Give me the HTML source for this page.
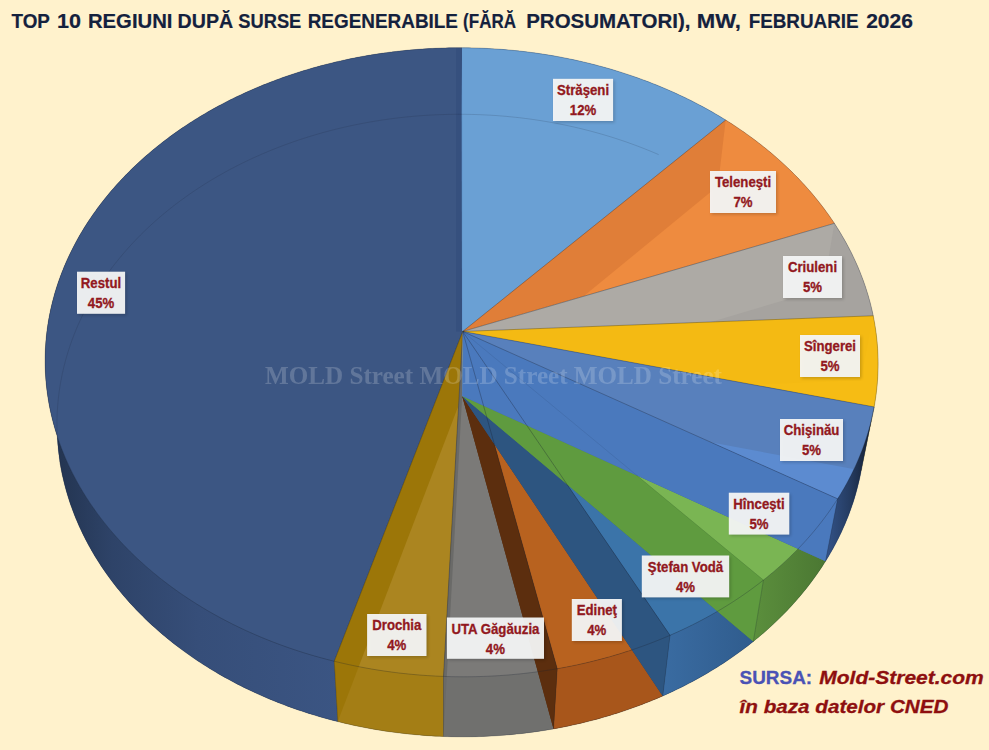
<!DOCTYPE html>
<html><head><meta charset="utf-8"><style>
html,body{margin:0;padding:0;background:#FFF2CC;}
svg{display:block;}
.tt{font-family:"Liberation Sans",sans-serif;font-weight:bold;font-size:21px;fill:#14213D;stroke:#14213D;stroke-width:0.2px;}
.lb{font-family:"Liberation Sans",sans-serif;font-weight:bold;font-size:14.2px;fill:#921820;stroke:#921820;stroke-width:0.3px;text-anchor:middle;}
</style></head><body>
<svg width="989" height="750" viewBox="0 0 989 750">
<defs>
<filter id="blur" x="-20%" y="-20%" width="140%" height="140%"><feGaussianBlur stdDeviation="1.5"/></filter>
<linearGradient id="gRes" gradientUnits="userSpaceOnUse" x1="55" y1="0" x2="340" y2="0"><stop offset="0" stop-color="#233450"/><stop offset="0.2" stop-color="#2E4368"/><stop offset="0.5" stop-color="#364E79"/><stop offset="1" stop-color="#3B5583"/></linearGradient>
<linearGradient id="gChi" gradientUnits="userSpaceOnUse" x1="825" y1="0" x2="874" y2="0"><stop offset="0" stop-color="#34548A"/><stop offset="0.5" stop-color="#253C62"/><stop offset="1" stop-color="#111A28"/></linearGradient>
<linearGradient id="gHin" gradientUnits="userSpaceOnUse" x1="750" y1="0" x2="830" y2="0"><stop offset="0" stop-color="#5C903D"/><stop offset="1" stop-color="#4A7632"/></linearGradient>
<linearGradient id="gSV" gradientUnits="userSpaceOnUse" x1="660" y1="0" x2="760" y2="0"><stop offset="0" stop-color="#3A6CA2"/><stop offset="1" stop-color="#2F5B8C"/></linearGradient>
<linearGradient id="lg" x1="0" y1="0" x2="0" y2="1"><stop offset="0" stop-color="#F7F7F5"/><stop offset="1" stop-color="#EEF0F3"/></linearGradient>
</defs>
<rect width="989" height="750" fill="#FFF2CC"/>
<text x="11.5" y="27.6" textLength="38.4" lengthAdjust="spacingAndGlyphs" class="tt">TOP</text>
<text x="57.0" y="27.6" textLength="24.0" lengthAdjust="spacingAndGlyphs" class="tt">10</text>
<text x="87.9" y="27.6" textLength="84.6" lengthAdjust="spacingAndGlyphs" class="tt">REGIUNI</text>
<text x="177.6" y="27.6" textLength="55.6" lengthAdjust="spacingAndGlyphs" class="tt">DUPĂ</text>
<text x="238.3" y="27.6" textLength="63.0" lengthAdjust="spacingAndGlyphs" class="tt">SURSE</text>
<text x="307.7" y="27.6" textLength="150.3" lengthAdjust="spacingAndGlyphs" class="tt">REGENERABILE</text>
<text x="463.1" y="27.6" textLength="52.9" lengthAdjust="spacingAndGlyphs" class="tt">(FĂRĂ</text>
<text x="526.2" y="27.6" textLength="164.2" lengthAdjust="spacingAndGlyphs" class="tt">PROSUMATORI),</text>
<text x="696.8" y="27.6" textLength="44.2" lengthAdjust="spacingAndGlyphs" class="tt">MW,</text>
<text x="748.7" y="27.6" textLength="109.9" lengthAdjust="spacingAndGlyphs" class="tt">FEBRUARIE</text>
<text x="866.2" y="27.6" textLength="46.7" lengthAdjust="spacingAndGlyphs" class="tt">2026</text>
<g stroke="none">
<polygon points="462.18,395.98 337.78,721.62 334.10,720.68 330.44,719.72 326.79,718.74 323.15,717.72 319.52,716.68 315.91,715.61 312.31,714.52 308.73,713.40 305.16,712.26 301.60,711.09 298.07,709.89 294.55,708.67 291.04,707.42 287.55,706.15 284.08,704.85 280.63,703.53 277.19,702.18 273.77,700.81 270.37,699.41 266.99,697.99 263.62,696.54 260.28,695.08 256.96,693.58 253.65,692.07 250.37,690.53 247.10,688.96 243.86,687.38 240.63,685.77 237.43,684.14 234.25,682.48 231.09,680.81 227.96,679.11 224.84,677.39 221.75,675.65 218.68,673.88 215.64,672.10 212.62,670.29 209.62,668.46 206.64,666.62 203.69,664.75 200.77,662.86 197.87,660.95 194.99,659.02 192.14,657.07 189.31,655.11 186.51,653.12 183.74,651.11 180.99,649.09 178.27,647.05 175.57,644.98 172.90,642.90 170.26,640.81 167.65,638.69 165.06,636.56 162.50,634.41 159.96,632.24 157.46,630.06 154.98,627.86 152.53,625.64 150.11,623.41 147.72,621.16 145.36,618.90 143.02,616.62 140.72,614.32 138.44,612.01 136.19,609.69 133.98,607.35 131.79,605.00 129.63,602.63 127.50,600.26 125.41,597.86 123.34,595.46 121.30,593.04 119.29,590.61 117.32,588.16 115.37,585.71 113.45,583.24 111.57,580.76 109.72,578.27 107.89,575.76 106.10,573.25 104.34,570.73 102.62,568.19 100.92,565.65 99.25,563.10 97.62,560.53 96.02,557.96 94.45,555.38 92.91,552.78 91.40,550.18 89.93,547.58 88.48,544.96 87.07,542.33 85.69,539.70 84.35,537.06 83.03,534.42 81.75,531.76 80.50,529.10 79.28,526.43 78.10,523.76 76.95,521.08 75.82,518.40 74.74,515.71 73.68,513.01 72.66,510.31 71.67,507.60 70.71,504.89 69.78,502.18 68.89,499.46 68.03,496.74 67.20,494.01 66.40,491.29 65.64,488.55 64.91,485.82 64.21,483.08 63.54,480.34 62.91,477.60 62.31,474.86 61.74,472.11 61.20,469.36 60.69,466.61 60.22,463.87 59.78,461.12 59.37,458.36 58.99,455.61 58.65,452.86 58.34,450.11 58.06,447.36 57.81,444.61 57.59,441.86 57.40,439.11 57.25,436.37 57.13,433.62 57.04,430.88 56.98,428.14 56.95,425.40 56.95,422.66 56.99,419.92 57.05,417.19 57.15,414.46 57.28,411.74 57.44,409.01 57.63,406.29 57.85,403.58 58.10,400.87 58.38,398.16 58.69,395.46 59.03,392.76 59.40,390.06 59.80,387.37 60.24,384.69 60.70,382.01 61.19,379.34 61.71,376.67 62.26,374.01 62.84,371.35 63.45,368.71 64.09,366.06 64.76,363.43 65.46,360.80 66.18,358.17 66.94,355.56 67.72,352.95 68.53,350.35 69.37,347.76 70.24,345.17 71.14,342.60 72.06,340.03 73.02,337.47 73.99,334.92 75.00,332.37 76.04,329.84 77.10,327.31 78.19,324.80 79.30,322.29 80.45,319.79 81.62,317.31 82.81,314.83 84.03,312.36 85.28,309.90 86.56,307.45 87.86,305.02 89.19,302.59 90.54,300.18 91.91,297.77 93.32,295.38 94.75,292.99 96.20,290.62 97.68,288.26 99.18,285.91 100.71,283.58 102.26,281.25 103.83,278.94 105.43,276.64 107.06,274.35 108.70,272.07 110.37,269.81 112.07,267.55 113.79,265.32 115.53,263.09 117.29,260.88 119.07,258.68 120.88,256.49 122.71,254.32 124.57,252.16 126.44,250.01 128.34,247.88 130.26,245.76 132.20,243.65 134.16,241.56 136.14,239.49 138.15,237.42 140.17,235.37 142.22,233.34 144.28,231.32 146.37,229.32 148.47,227.33 150.60,225.35 152.74,223.39 154.91,221.45 157.09,219.52 159.30,217.60 161.52,215.70 163.76,213.82 166.02,211.95 168.30,210.09 170.60,208.26 172.92,206.44 175.25,204.63 177.60,202.84 179.97,201.07 182.36,199.31 184.76,197.57 187.18,195.84 189.62,194.13 192.07,192.44 194.54,190.76 197.03,189.11 199.53,187.46 202.05,185.84 204.59,184.23 207.14,182.64 209.71,181.06 212.29,179.50 214.88,177.96 217.49,176.44 220.12,174.93 222.76,173.44 225.42,171.97 228.09,170.51 230.77,169.08 233.47,167.66 236.18,166.25 238.90,164.87 241.64,163.50 244.39,162.15 247.15,160.82 249.93,159.51 252.71,158.21 255.51,156.94 258.33,155.68 261.15,154.43 263.99,153.21 266.83,152.01 269.69,150.82 272.56,149.65 275.45,148.50 278.34,147.37 281.24,146.26 284.15,145.16 287.08,144.08 290.01,143.03 292.96,141.99 295.91,140.97 298.87,139.97 301.84,138.98 304.83,138.02 307.82,137.07 310.82,136.14 313.82,135.24 316.84,134.35 319.87,133.48 322.90,132.63 325.94,131.79 328.99,130.98 332.04,130.19 335.11,129.41 338.18,128.66 341.26,127.92 344.34,127.20 347.43,126.50 350.53,125.82 353.63,125.16 356.74,124.52 359.86,123.90 362.98,123.30 366.10,122.72 369.24,122.15 372.37,121.61 375.52,121.08 378.66,120.58 381.82,120.09 384.97,119.63 388.13,119.18 391.30,118.75 394.47,118.34 397.64,117.96 400.81,117.59 403.99,117.24 407.17,116.91 410.36,116.60 413.55,116.30 416.74,116.03 419.93,115.78 423.13,115.55 426.32,115.34 429.52,115.14 432.72,114.97 435.93,114.82 439.13,114.68 442.33,114.57 445.54,114.47 448.75,114.40 451.95,114.34 455.16,114.31 458.37,114.29 461.58,114.29" fill="#34507A" />
<polygon points="334.23,661.25 330.43,660.30 326.64,659.32 322.87,658.32 319.11,657.28 315.36,656.23 311.63,655.14 307.91,654.03 304.21,652.89 300.52,651.72 296.85,650.53 293.20,649.32 289.56,648.07 285.94,646.80 282.34,645.51 278.75,644.19 275.19,642.85 271.64,641.48 268.11,640.08 264.59,638.66 261.10,637.22 257.63,635.75 254.18,634.25 250.74,632.74 247.33,631.20 243.94,629.63 240.57,628.04 237.22,626.43 233.90,624.80 230.59,623.14 227.31,621.46 224.05,619.75 220.81,618.03 217.60,616.28 214.41,614.51 211.24,612.72 208.10,610.90 204.98,609.07 201.89,607.21 198.82,605.34 195.78,603.44 192.76,601.52 189.77,599.58 186.80,597.62 183.86,595.65 180.95,593.65 178.06,591.63 175.20,589.59 172.36,587.54 169.56,585.46 166.78,583.37 164.03,581.26 161.30,579.13 158.61,576.98 155.94,574.82 153.30,572.64 150.69,570.44 148.11,568.22 145.56,565.99 143.04,563.74 140.54,561.47 138.08,559.19 135.65,556.90 133.24,554.58 130.87,552.26 128.53,549.91 126.21,547.56 123.93,545.18 121.68,542.80 119.46,540.40 117.27,537.99 115.11,535.56 112.98,533.12 110.88,530.67 108.82,528.20 106.79,525.72 104.79,523.23 102.82,520.73 100.88,518.22 98.98,515.69 97.10,513.16 95.26,510.61 93.45,508.05 91.68,505.48 89.93,502.90 88.22,500.31 86.55,497.72 84.90,495.11 83.29,492.49 81.71,489.87 80.16,487.23 78.65,484.59 77.17,481.94 75.72,479.28 74.31,476.61 72.93,473.94 71.58,471.26 70.27,468.57 68.99,465.88 67.74,463.18 66.53,460.47 65.35,457.76 64.20,455.04 63.09,452.32 62.01,449.59 60.96,446.85 59.95,444.11 58.97,441.37 58.03,438.62 57.12,435.87 56.24,433.12 55.39,430.36 54.58,427.60 53.80,424.84 53.06,422.07 52.35,419.30 51.67,416.53 51.03,413.75 50.42,410.98 49.84,408.20 49.30,405.42 48.78,402.64 48.31,399.86 47.86,397.08 47.45,394.30 47.07,391.52 46.73,388.74 46.42,385.96 46.14,383.18 45.89,380.40 45.68,377.62 45.49,374.84 45.35,372.06 45.23,369.29 45.15,366.52 45.10,363.74 45.08,360.98 45.09,358.21 45.14,355.45 45.21,352.69 45.32,349.93 45.47,347.17 45.64,344.42 45.84,341.68 46.08,338.93 46.35,336.20 46.65,333.46 46.98,330.73 47.34,328.01 47.74,325.29 48.16,322.57 48.62,319.86 49.10,317.16 49.62,314.46 50.17,311.77 50.74,309.08 51.35,306.40 51.99,303.73 52.66,301.06 53.36,298.40 54.08,295.74 54.84,293.10 55.63,290.46 56.44,287.83 57.29,285.20 58.16,282.59 59.07,279.98 60.00,277.38 60.96,274.79 61.95,272.21 62.97,269.63 64.02,267.07 65.09,264.51 66.19,261.97 67.32,259.43 68.48,256.90 69.67,254.39 70.88,251.88 72.12,249.38 73.39,246.89 74.68,244.41 76.00,241.95 77.35,239.49 78.72,237.05 80.12,234.61 81.55,232.19 83.00,229.77 84.48,227.37 85.98,224.98 87.51,222.61 89.07,220.24 90.65,217.88 92.25,215.54 93.88,213.21 95.54,210.89 97.21,208.59 98.92,206.30 100.64,204.02 102.39,201.75 104.17,199.49 105.97,197.25 107.79,195.02 109.63,192.81 111.50,190.61 113.39,188.42 115.31,186.24 117.24,184.08 119.20,181.94 121.18,179.80 123.18,177.68 125.21,175.58 127.26,173.49 129.32,171.41 131.41,169.35 133.52,167.30 135.65,165.27 137.80,163.26 139.98,161.25 142.17,159.27 144.38,157.29 146.62,155.34 148.87,153.40 151.14,151.47 153.43,149.56 155.74,147.66 158.08,145.78 160.42,143.92 162.79,142.07 165.18,140.24 167.58,138.42 170.01,136.62 172.45,134.84 174.91,133.07 177.38,131.32 179.88,129.59 182.39,127.87 184.92,126.17 187.46,124.48 190.02,122.82 192.60,121.17 195.20,119.53 197.81,117.91 200.44,116.31 203.08,114.73 205.74,113.16 208.41,111.62 211.10,110.08 213.80,108.57 216.52,107.07 219.25,105.59 222.00,104.13 224.76,102.69 227.54,101.26 230.33,99.85 233.13,98.46 235.95,97.09 238.78,95.74 241.62,94.40 244.48,93.08 247.35,91.78 250.23,90.50 253.12,89.23 256.03,87.99 258.95,86.76 261.88,85.55 264.82,84.36 267.77,83.18 270.73,82.03 273.71,80.89 276.69,79.78 279.69,78.68 282.70,77.60 285.72,76.53 288.74,75.49 291.78,74.47 294.83,73.46 297.88,72.48 300.95,71.51 304.03,70.56 307.11,69.63 310.20,68.72 313.30,67.83 316.41,66.95 319.53,66.10 322.66,65.27 325.79,64.45 328.94,63.65 332.08,62.88 335.24,62.12 338.41,61.38 341.58,60.66 344.75,59.96 347.94,59.28 351.13,58.62 354.32,57.98 357.53,57.36 360.74,56.75 363.95,56.17 367.17,55.60 370.39,55.06 373.62,54.53 376.86,54.03 380.10,53.54 383.34,53.07 386.59,52.63 389.84,52.20 393.10,51.79 396.36,51.40 399.62,51.03 402.89,50.68 406.16,50.35 409.43,50.04 412.71,49.75 415.99,49.48 419.27,49.23 422.55,49.00 425.84,48.79 429.12,48.60 432.41,48.42 435.70,48.27 439.00,48.14 442.29,48.03 445.58,47.93 448.88,47.86 452.18,47.80 455.47,47.77 458.77,47.75 462.06,47.76 461.58,114.29 458.37,114.29 455.16,114.31 451.95,114.34 448.75,114.40 445.54,114.47 442.33,114.57 439.13,114.68 435.93,114.82 432.72,114.97 429.52,115.14 426.32,115.34 423.13,115.55 419.93,115.78 416.74,116.03 413.55,116.30 410.36,116.60 407.17,116.91 403.99,117.24 400.81,117.59 397.64,117.96 394.47,118.34 391.30,118.75 388.13,119.18 384.97,119.63 381.82,120.09 378.66,120.58 375.52,121.08 372.37,121.61 369.24,122.15 366.10,122.72 362.98,123.30 359.86,123.90 356.74,124.52 353.63,125.16 350.53,125.82 347.43,126.50 344.34,127.20 341.26,127.92 338.18,128.66 335.11,129.41 332.04,130.19 328.99,130.98 325.94,131.79 322.90,132.63 319.87,133.48 316.84,134.35 313.82,135.24 310.82,136.14 307.82,137.07 304.83,138.02 301.84,138.98 298.87,139.97 295.91,140.97 292.96,141.99 290.01,143.03 287.08,144.08 284.15,145.16 281.24,146.26 278.34,147.37 275.45,148.50 272.56,149.65 269.69,150.82 266.83,152.01 263.99,153.21 261.15,154.43 258.33,155.68 255.51,156.94 252.71,158.21 249.93,159.51 247.15,160.82 244.39,162.15 241.64,163.50 238.90,164.87 236.18,166.25 233.47,167.66 230.77,169.08 228.09,170.51 225.42,171.97 222.76,173.44 220.12,174.93 217.49,176.44 214.88,177.96 212.29,179.50 209.71,181.06 207.14,182.64 204.59,184.23 202.05,185.84 199.53,187.46 197.03,189.11 194.54,190.76 192.07,192.44 189.62,194.13 187.18,195.84 184.76,197.57 182.36,199.31 179.97,201.07 177.60,202.84 175.25,204.63 172.92,206.44 170.60,208.26 168.30,210.09 166.02,211.95 163.76,213.82 161.52,215.70 159.30,217.60 157.09,219.52 154.91,221.45 152.74,223.39 150.60,225.35 148.47,227.33 146.37,229.32 144.28,231.32 142.22,233.34 140.17,235.37 138.15,237.42 136.14,239.49 134.16,241.56 132.20,243.65 130.26,245.76 128.34,247.88 126.44,250.01 124.57,252.16 122.71,254.32 120.88,256.49 119.07,258.68 117.29,260.88 115.53,263.09 113.79,265.32 112.07,267.55 110.37,269.81 108.70,272.07 107.06,274.35 105.43,276.64 103.83,278.94 102.26,281.25 100.71,283.58 99.18,285.91 97.68,288.26 96.20,290.62 94.75,292.99 93.32,295.38 91.91,297.77 90.54,300.18 89.19,302.59 87.86,305.02 86.56,307.45 85.28,309.90 84.03,312.36 82.81,314.83 81.62,317.31 80.45,319.79 79.30,322.29 78.19,324.80 77.10,327.31 76.04,329.84 75.00,332.37 73.99,334.92 73.02,337.47 72.06,340.03 71.14,342.60 70.24,345.17 69.37,347.76 68.53,350.35 67.72,352.95 66.94,355.56 66.18,358.17 65.46,360.80 64.76,363.43 64.09,366.06 63.45,368.71 62.84,371.35 62.26,374.01 61.71,376.67 61.19,379.34 60.70,382.01 60.24,384.69 59.80,387.37 59.40,390.06 59.03,392.76 58.69,395.46 58.38,398.16 58.10,400.87 57.85,403.58 57.63,406.29 57.44,409.01 57.28,411.74 57.15,414.46 57.05,417.19 56.99,419.92 56.95,422.66 56.95,425.40 56.98,428.14 57.04,430.88 57.13,433.62 57.25,436.37 57.40,439.11 57.59,441.86 57.81,444.61 58.06,447.36 58.34,450.11 58.65,452.86 58.99,455.61 59.37,458.36 59.78,461.12 60.22,463.87 60.69,466.61 61.20,469.36 61.74,472.11 62.31,474.86 62.91,477.60 63.54,480.34 64.21,483.08 64.91,485.82 65.64,488.55 66.40,491.29 67.20,494.01 68.03,496.74 68.89,499.46 69.78,502.18 70.71,504.89 71.67,507.60 72.66,510.31 73.68,513.01 74.74,515.71 75.82,518.40 76.95,521.08 78.10,523.76 79.28,526.43 80.50,529.10 81.75,531.76 83.03,534.42 84.35,537.06 85.69,539.70 87.07,542.33 88.48,544.96 89.93,547.58 91.40,550.18 92.91,552.78 94.45,555.38 96.02,557.96 97.62,560.53 99.25,563.10 100.92,565.65 102.62,568.19 104.34,570.73 106.10,573.25 107.89,575.76 109.72,578.27 111.57,580.76 113.45,583.24 115.37,585.71 117.32,588.16 119.29,590.61 121.30,593.04 123.34,595.46 125.41,597.86 127.50,600.26 129.63,602.63 131.79,605.00 133.98,607.35 136.19,609.69 138.44,612.01 140.72,614.32 143.02,616.62 145.36,618.90 147.72,621.16 150.11,623.41 152.53,625.64 154.98,627.86 157.46,630.06 159.96,632.24 162.50,634.41 165.06,636.56 167.65,638.69 170.26,640.81 172.90,642.90 175.57,644.98 178.27,647.05 180.99,649.09 183.74,651.11 186.51,653.12 189.31,655.11 192.14,657.07 194.99,659.02 197.87,660.95 200.77,662.86 203.69,664.75 206.64,666.62 209.62,668.46 212.62,670.29 215.64,672.10 218.68,673.88 221.75,675.65 224.84,677.39 227.96,679.11 231.09,680.81 234.25,682.48 237.43,684.14 240.63,685.77 243.86,687.38 247.10,688.96 250.37,690.53 253.65,692.07 256.96,693.58 260.28,695.08 263.62,696.54 266.99,697.99 270.37,699.41 273.77,700.81 277.19,702.18 280.63,703.53 284.08,704.85 287.55,706.15 291.04,707.42 294.55,708.67 298.07,709.89 301.60,711.09 305.16,712.26 308.73,713.40 312.31,714.52 315.91,715.61 319.52,716.68 323.15,717.72 326.79,718.74 330.44,719.72 334.10,720.68 337.78,721.62" fill="url(#gRes)" />
<polygon points="462.73,331.46 334.23,661.25 330.43,660.30 326.64,659.32 322.87,658.32 319.11,657.28 315.36,656.23 311.63,655.14 307.91,654.03 304.21,652.89 300.52,651.72 296.85,650.53 293.20,649.32 289.56,648.07 285.94,646.80 282.34,645.51 278.75,644.19 275.19,642.85 271.64,641.48 268.11,640.08 264.59,638.66 261.10,637.22 257.63,635.75 254.18,634.25 250.74,632.74 247.33,631.20 243.94,629.63 240.57,628.04 237.22,626.43 233.90,624.80 230.59,623.14 227.31,621.46 224.05,619.75 220.81,618.03 217.60,616.28 214.41,614.51 211.24,612.72 208.10,610.90 204.98,609.07 201.89,607.21 198.82,605.34 195.78,603.44 192.76,601.52 189.77,599.58 186.80,597.62 183.86,595.65 180.95,593.65 178.06,591.63 175.20,589.59 172.36,587.54 169.56,585.46 166.78,583.37 164.03,581.26 161.30,579.13 158.61,576.98 155.94,574.82 153.30,572.64 150.69,570.44 148.11,568.22 145.56,565.99 143.04,563.74 140.54,561.47 138.08,559.19 135.65,556.90 133.24,554.58 130.87,552.26 128.53,549.91 126.21,547.56 123.93,545.18 121.68,542.80 119.46,540.40 117.27,537.99 115.11,535.56 112.98,533.12 110.88,530.67 108.82,528.20 106.79,525.72 104.79,523.23 102.82,520.73 100.88,518.22 98.98,515.69 97.10,513.16 95.26,510.61 93.45,508.05 91.68,505.48 89.93,502.90 88.22,500.31 86.55,497.72 84.90,495.11 83.29,492.49 81.71,489.87 80.16,487.23 78.65,484.59 77.17,481.94 75.72,479.28 74.31,476.61 72.93,473.94 71.58,471.26 70.27,468.57 68.99,465.88 67.74,463.18 66.53,460.47 65.35,457.76 64.20,455.04 63.09,452.32 62.01,449.59 60.96,446.85 59.95,444.11 58.97,441.37 58.03,438.62 57.12,435.87 56.24,433.12 55.39,430.36 54.58,427.60 53.80,424.84 53.06,422.07 52.35,419.30 51.67,416.53 51.03,413.75 50.42,410.98 49.84,408.20 49.30,405.42 48.78,402.64 48.31,399.86 47.86,397.08 47.45,394.30 47.07,391.52 46.73,388.74 46.42,385.96 46.14,383.18 45.89,380.40 45.68,377.62 45.49,374.84 45.35,372.06 45.23,369.29 45.15,366.52 45.10,363.74 45.08,360.98 45.09,358.21 45.14,355.45 45.21,352.69 45.32,349.93 45.47,347.17 45.64,344.42 45.84,341.68 46.08,338.93 46.35,336.20 46.65,333.46 46.98,330.73 47.34,328.01 47.74,325.29 48.16,322.57 48.62,319.86 49.10,317.16 49.62,314.46 50.17,311.77 50.74,309.08 51.35,306.40 51.99,303.73 52.66,301.06 53.36,298.40 54.08,295.74 54.84,293.10 55.63,290.46 56.44,287.83 57.29,285.20 58.16,282.59 59.07,279.98 60.00,277.38 60.96,274.79 61.95,272.21 62.97,269.63 64.02,267.07 65.09,264.51 66.19,261.97 67.32,259.43 68.48,256.90 69.67,254.39 70.88,251.88 72.12,249.38 73.39,246.89 74.68,244.41 76.00,241.95 77.35,239.49 78.72,237.05 80.12,234.61 81.55,232.19 83.00,229.77 84.48,227.37 85.98,224.98 87.51,222.61 89.07,220.24 90.65,217.88 92.25,215.54 93.88,213.21 95.54,210.89 97.21,208.59 98.92,206.30 100.64,204.02 102.39,201.75 104.17,199.49 105.97,197.25 107.79,195.02 109.63,192.81 111.50,190.61 113.39,188.42 115.31,186.24 117.24,184.08 119.20,181.94 121.18,179.80 123.18,177.68 125.21,175.58 127.26,173.49 129.32,171.41 131.41,169.35 133.52,167.30 135.65,165.27 137.80,163.26 139.98,161.25 142.17,159.27 144.38,157.29 146.62,155.34 148.87,153.40 151.14,151.47 153.43,149.56 155.74,147.66 158.08,145.78 160.42,143.92 162.79,142.07 165.18,140.24 167.58,138.42 170.01,136.62 172.45,134.84 174.91,133.07 177.38,131.32 179.88,129.59 182.39,127.87 184.92,126.17 187.46,124.48 190.02,122.82 192.60,121.17 195.20,119.53 197.81,117.91 200.44,116.31 203.08,114.73 205.74,113.16 208.41,111.62 211.10,110.08 213.80,108.57 216.52,107.07 219.25,105.59 222.00,104.13 224.76,102.69 227.54,101.26 230.33,99.85 233.13,98.46 235.95,97.09 238.78,95.74 241.62,94.40 244.48,93.08 247.35,91.78 250.23,90.50 253.12,89.23 256.03,87.99 258.95,86.76 261.88,85.55 264.82,84.36 267.77,83.18 270.73,82.03 273.71,80.89 276.69,79.78 279.69,78.68 282.70,77.60 285.72,76.53 288.74,75.49 291.78,74.47 294.83,73.46 297.88,72.48 300.95,71.51 304.03,70.56 307.11,69.63 310.20,68.72 313.30,67.83 316.41,66.95 319.53,66.10 322.66,65.27 325.79,64.45 328.94,63.65 332.08,62.88 335.24,62.12 338.41,61.38 341.58,60.66 344.75,59.96 347.94,59.28 351.13,58.62 354.32,57.98 357.53,57.36 360.74,56.75 363.95,56.17 367.17,55.60 370.39,55.06 373.62,54.53 376.86,54.03 380.10,53.54 383.34,53.07 386.59,52.63 389.84,52.20 393.10,51.79 396.36,51.40 399.62,51.03 402.89,50.68 406.16,50.35 409.43,50.04 412.71,49.75 415.99,49.48 419.27,49.23 422.55,49.00 425.84,48.79 429.12,48.60 432.41,48.42 435.70,48.27 439.00,48.14 442.29,48.03 445.58,47.93 448.88,47.86 452.18,47.80 455.47,47.77 458.77,47.75 462.06,47.76" fill="#3C5683" />
<polygon points="462.73,331.46 334.23,661.25 337.78,721.62 462.18,395.98" fill="#34507A" />
<polygon points="462.73,331.46 462.06,47.76 461.58,114.29 462.18,395.98" fill="#34507A" />
<polygon points="462.18,395.98 443.52,736.49 439.53,736.33 435.54,736.14 431.56,735.92 427.57,735.67 423.60,735.38 419.62,735.07 415.65,734.73 411.68,734.36 407.72,733.95 403.77,733.52 399.82,733.06 395.88,732.56 391.94,732.04 388.01,731.49 384.09,730.90 380.18,730.29 376.27,729.65 372.38,728.98 368.49,728.28 364.61,727.54 360.75,726.78 356.89,726.00 353.05,725.18 349.21,724.33 345.39,723.46 341.58,722.55 337.78,721.62" fill="#9C7608" />
<polygon points="443.51,676.41 439.38,676.25 435.26,676.05 431.14,675.82 427.02,675.56 422.91,675.27 418.80,674.96 414.70,674.60 410.60,674.22 406.51,673.81 402.42,673.37 398.34,672.90 394.26,672.39 390.20,671.86 386.14,671.30 382.08,670.70 378.04,670.08 374.00,669.42 369.98,668.74 365.96,668.03 361.96,667.28 357.96,666.51 353.97,665.71 350.00,664.87 346.04,664.01 342.09,663.12 338.15,662.20 334.23,661.25 337.78,721.62 341.58,722.55 345.39,723.46 349.21,724.33 353.05,725.18 356.89,726.00 360.75,726.78 364.61,727.54 368.49,728.28 372.38,728.98 376.27,729.65 380.18,730.29 384.09,730.90 388.01,731.49 391.94,732.04 395.88,732.56 399.82,733.06 403.77,733.52 407.72,733.95 411.68,734.36 415.65,734.73 419.62,735.07 423.60,735.38 427.57,735.67 431.56,735.92 435.54,736.14 439.53,736.33 443.52,736.49" fill="#A47E15" />
<polygon points="462.73,331.46 443.51,676.41 439.38,676.25 435.26,676.05 431.14,675.82 427.02,675.56 422.91,675.27 418.80,674.96 414.70,674.60 410.60,674.22 406.51,673.81 402.42,673.37 398.34,672.90 394.26,672.39 390.20,671.86 386.14,671.30 382.08,670.70 378.04,670.08 374.00,669.42 369.98,668.74 365.96,668.03 361.96,667.28 357.96,666.51 353.97,665.71 350.00,664.87 346.04,664.01 342.09,663.12 338.15,662.20 334.23,661.25" fill="#AB8520" />
<polygon points="462.73,331.46 443.51,676.41 443.52,736.49 462.18,395.98" fill="#9C7608" />
<polygon points="462.73,331.46 334.23,661.25 337.78,721.62 462.18,395.98" fill="#9C7608" />
<polygon points="462.18,395.98 553.55,728.88 549.70,729.55 545.84,730.19 541.97,730.80 538.09,731.38 534.20,731.93 530.31,732.46 526.41,732.95 522.50,733.42 518.59,733.86 514.67,734.26 510.74,734.64 506.81,734.99 502.87,735.31 498.93,735.59 494.98,735.85 491.04,736.08 487.08,736.28 483.13,736.45 479.17,736.59 475.21,736.70 471.25,736.78 467.29,736.83 463.33,736.85 459.37,736.84 455.40,736.79 451.44,736.72 447.48,736.62 443.52,736.49" fill="#777674" />
<polygon points="557.22,668.72 553.24,669.40 549.25,670.05 545.25,670.67 541.25,671.26 537.23,671.82 533.21,672.35 529.17,672.85 525.14,673.32 521.09,673.76 517.04,674.17 512.98,674.56 508.92,674.91 504.85,675.23 500.78,675.52 496.70,675.78 492.62,676.01 488.53,676.21 484.45,676.38 480.36,676.52 476.26,676.63 472.17,676.71 468.08,676.76 463.98,676.78 459.88,676.76 455.79,676.72 451.69,676.65 447.60,676.55 443.51,676.41 443.52,736.49 447.48,736.62 451.44,736.72 455.40,736.79 459.37,736.84 463.33,736.85 467.29,736.83 471.25,736.78 475.21,736.70 479.17,736.59 483.13,736.45 487.08,736.28 491.04,736.08 494.98,735.85 498.93,735.59 502.87,735.31 506.81,734.99 510.74,734.64 514.67,734.26 518.59,733.86 522.50,733.42 526.41,732.95 530.31,732.46 534.20,731.93 538.09,731.38 541.97,730.80 545.84,730.19 549.70,729.55 553.55,728.88" fill="#70706E" />
<polygon points="462.73,331.46 557.22,668.72 553.24,669.40 549.25,670.05 545.25,670.67 541.25,671.26 537.23,671.82 533.21,672.35 529.17,672.85 525.14,673.32 521.09,673.76 517.04,674.17 512.98,674.56 508.92,674.91 504.85,675.23 500.78,675.52 496.70,675.78 492.62,676.01 488.53,676.21 484.45,676.38 480.36,676.52 476.26,676.63 472.17,676.71 468.08,676.76 463.98,676.78 459.88,676.76 455.79,676.72 451.69,676.65 447.60,676.55 443.51,676.41" fill="#7B7A78" />
<polygon points="462.73,331.46 557.22,668.72 553.55,728.88 462.18,395.98" fill="#6A6A68" />
<polygon points="462.73,331.46 443.51,676.41 443.52,736.49 462.18,395.98" fill="#6A6A68" />
<polygon points="462.18,395.98 662.76,695.95 659.36,697.43 655.95,698.88 652.51,700.31 649.06,701.71 645.58,703.09 642.09,704.44 638.58,705.77 635.05,707.07 631.50,708.35 627.94,709.60 624.36,710.82 620.76,712.02 617.15,713.19 613.51,714.33 609.87,715.45 606.21,716.54 602.53,717.60 598.84,718.63 595.14,719.64 591.42,720.62 587.68,721.57 583.94,722.50 580.18,723.39 576.41,724.26 572.63,725.10 568.83,725.91 565.03,726.70 561.21,727.45 557.39,728.18 553.55,728.88" fill="#5C2E0E" />
<polygon points="670.01,635.32 666.51,636.82 662.98,638.29 659.43,639.74 655.87,641.17 652.28,642.56 648.68,643.94 645.05,645.28 641.41,646.60 637.74,647.90 634.06,649.16 630.37,650.40 626.65,651.62 622.92,652.81 619.17,653.97 615.40,655.10 611.62,656.20 607.82,657.28 604.01,658.33 600.18,659.35 596.34,660.35 592.49,661.31 588.62,662.25 584.74,663.16 580.84,664.04 576.93,664.89 573.01,665.71 569.08,666.51 565.14,667.27 561.19,668.01 557.22,668.72 553.55,728.88 557.39,728.18 561.21,727.45 565.03,726.70 568.83,725.91 572.63,725.10 576.41,724.26 580.18,723.39 583.94,722.50 587.68,721.57 591.42,720.62 595.14,719.64 598.84,718.63 602.53,717.60 606.21,716.54 609.87,715.45 613.51,714.33 617.15,713.19 620.76,712.02 624.36,710.82 627.94,709.60 631.50,708.35 635.05,707.07 638.58,705.77 642.09,704.44 645.58,703.09 649.06,701.71 652.51,700.31 655.95,698.88 659.36,697.43 662.76,695.95" fill="#A8561B" />
<polygon points="462.73,331.46 670.01,635.32 666.51,636.82 662.98,638.29 659.43,639.74 655.87,641.17 652.28,642.56 648.68,643.94 645.05,645.28 641.41,646.60 637.74,647.90 634.06,649.16 630.37,650.40 626.65,651.62 622.92,652.81 619.17,653.97 615.40,655.10 611.62,656.20 607.82,657.28 604.01,658.33 600.18,659.35 596.34,660.35 592.49,661.31 588.62,662.25 584.74,663.16 580.84,664.04 576.93,664.89 573.01,665.71 569.08,666.51 565.14,667.27 561.19,668.01 557.22,668.72" fill="#B8621F" />
<polygon points="462.73,331.46 670.01,635.32 662.76,695.95 462.18,395.98" fill="#5C2E0E" />
<polygon points="462.73,331.46 557.22,668.72 553.55,728.88 462.18,395.98" fill="#5C2E0E" />
<polygon points="462.18,395.98 753.35,641.47 750.70,643.58 748.02,645.67 745.31,647.75 742.58,649.80 739.82,651.84 737.03,653.85 734.22,655.85 731.38,657.83 728.51,659.79 725.62,661.72 722.70,663.64 719.76,665.54 716.79,667.41 713.80,669.27 710.78,671.10 707.74,672.92 704.68,674.71 701.59,676.48 698.47,678.23 695.34,679.95 692.18,681.66 689.00,683.34 685.79,685.00 682.57,686.63 679.32,688.24 676.05,689.83 672.76,691.40 669.44,692.94 666.11,694.45 662.76,695.95" fill="#2D5580" />
<polygon points="763.44,580.07 760.71,582.21 757.95,584.33 755.16,586.43 752.34,588.51 749.50,590.58 746.62,592.62 743.72,594.65 740.80,596.65 737.84,598.64 734.86,600.60 731.85,602.55 728.82,604.47 725.76,606.38 722.67,608.26 719.56,610.12 716.42,611.96 713.26,613.77 710.08,615.57 706.87,617.34 703.63,619.09 700.37,620.82 697.09,622.52 693.78,624.21 690.45,625.87 687.10,627.50 683.73,629.11 680.33,630.70 676.91,632.26 673.47,633.80 670.01,635.32 662.76,695.95 666.11,694.45 669.44,692.94 672.76,691.40 676.05,689.83 679.32,688.24 682.57,686.63 685.79,685.00 689.00,683.34 692.18,681.66 695.34,679.95 698.47,678.23 701.59,676.48 704.68,674.71 707.74,672.92 710.78,671.10 713.80,669.27 716.79,667.41 719.76,665.54 722.70,663.64 725.62,661.72 728.51,659.79 731.38,657.83 734.22,655.85 737.03,653.85 739.82,651.84 742.58,649.80 745.31,647.75 748.02,645.67 750.70,643.58 753.35,641.47" fill="url(#gSV)" />
<polygon points="462.73,331.46 763.44,580.07 760.71,582.21 757.95,584.33 755.16,586.43 752.34,588.51 749.50,590.58 746.62,592.62 743.72,594.65 740.80,596.65 737.84,598.64 734.86,600.60 731.85,602.55 728.82,604.47 725.76,606.38 722.67,608.26 719.56,610.12 716.42,611.96 713.26,613.77 710.08,615.57 706.87,617.34 703.63,619.09 700.37,620.82 697.09,622.52 693.78,624.21 690.45,625.87 687.10,627.50 683.73,629.11 680.33,630.70 676.91,632.26 673.47,633.80 670.01,635.32" fill="#3B74A9" />
<polygon points="462.73,331.46 763.44,580.07 753.35,641.47 462.18,395.98" fill="#2D5580" />
<polygon points="462.73,331.46 670.01,635.32 662.76,695.95 462.18,395.98" fill="#2D5580" />
<polygon points="462.18,395.98 825.50,561.30 823.89,563.86 822.24,566.41 820.56,568.95 818.85,571.49 817.10,574.01 815.33,576.52 813.52,579.02 811.69,581.50 809.82,583.98 807.92,586.45 805.99,588.90 804.03,591.34 802.04,593.77 800.01,596.18 797.96,598.59 795.88,600.98 793.77,603.35 791.62,605.72 789.45,608.07 787.25,610.40 785.01,612.72 782.75,615.03 780.46,617.32 778.14,619.59 775.79,621.85 773.41,624.10 771.00,626.33 768.56,628.54 766.10,630.74 763.60,632.92 761.08,635.08 758.53,637.23 755.96,639.36 753.35,641.47" fill="#5F9B3F" />
<polygon points="837.64,498.84 835.98,501.43 834.29,504.02 832.57,506.59 830.81,509.15 829.02,511.71 827.20,514.25 825.34,516.78 823.46,519.30 821.54,521.81 819.59,524.30 817.60,526.79 815.59,529.26 813.54,531.72 811.46,534.17 809.35,536.60 807.21,539.03 805.04,541.43 802.83,543.83 800.60,546.21 798.33,548.57 796.03,550.93 793.71,553.26 791.35,555.58 788.96,557.89 786.54,560.18 784.09,562.46 781.61,564.72 779.10,566.96 776.56,569.19 774.00,571.40 771.40,573.59 768.77,575.77 766.12,577.93 763.44,580.07 753.35,641.47 755.96,639.36 758.53,637.23 761.08,635.08 763.60,632.92 766.10,630.74 768.56,628.54 771.00,626.33 773.41,624.10 775.79,621.85 778.14,619.59 780.46,617.32 782.75,615.03 785.01,612.72 787.25,610.40 789.45,608.07 791.62,605.72 793.77,603.35 795.88,600.98 797.96,598.59 800.01,596.18 802.04,593.77 804.03,591.34 805.99,588.90 807.92,586.45 809.82,583.98 811.69,581.50 813.52,579.02 815.33,576.52 817.10,574.01 818.85,571.49 820.56,568.95 822.24,566.41 823.89,563.86 825.50,561.30" fill="url(#gHin)" />
<polygon points="462.73,331.46 837.64,498.84 835.98,501.43 834.29,504.02 832.57,506.59 830.81,509.15 829.02,511.71 827.20,514.25 825.34,516.78 823.46,519.30 821.54,521.81 819.59,524.30 817.60,526.79 815.59,529.26 813.54,531.72 811.46,534.17 809.35,536.60 807.21,539.03 805.04,541.43 802.83,543.83 800.60,546.21 798.33,548.57 796.03,550.93 793.71,553.26 791.35,555.58 788.96,557.89 786.54,560.18 784.09,562.46 781.61,564.72 779.10,566.96 776.56,569.19 774.00,571.40 771.40,573.59 768.77,575.77 766.12,577.93 763.44,580.07" fill="#7AB553" />
<polygon points="462.73,331.46 837.64,498.84 825.50,561.30 462.18,395.98" fill="#5F9B3F" />
<polygon points="462.73,331.46 763.44,580.07 753.35,641.47 462.18,395.98" fill="#5F9B3F" />
<polygon points="462.18,395.98 461.58,114.29 464.79,114.31 467.99,114.36 471.20,114.42 474.41,114.50 477.61,114.60 480.82,114.72 484.02,114.86 487.23,115.02 490.43,115.20 493.63,115.40 496.82,115.62 500.02,115.86 503.21,116.12 506.40,116.39 509.59,116.69 512.77,117.01 515.96,117.34 519.14,117.70 522.31,118.07 525.48,118.47 528.65,118.88 531.82,119.31 534.98,119.76 538.13,120.24 541.28,120.73 544.43,121.24 547.57,121.77 550.71,122.32 553.84,122.88 556.97,123.47 560.09,124.08 563.20,124.71 566.31,125.35 569.42,126.01 572.51,126.70 575.61,127.40 578.69,128.12 581.77,128.86 584.84,129.62 587.90,130.40 590.96,131.20 594.01,132.02 597.05,132.85 600.08,133.71 603.10,134.58 606.12,135.47 609.13,136.38 612.13,137.31 615.12,138.26 618.10,139.23 621.07,140.21 624.04,141.21 626.99,142.24 629.94,143.28 632.87,144.34 635.79,145.41 638.71,146.51 641.61,147.63 644.50,148.76 647.39,149.91 650.26,151.08 653.12,152.26 655.97,153.47 658.81,154.69 661.63,155.93 664.45,157.19 667.25,158.47 670.04,159.76 672.81,161.08 675.58,162.41 678.33,163.75 681.07,165.12 683.80,166.50 686.51,167.90 689.21,169.32 691.89,170.76 694.57,172.21 697.22,173.68 699.87,175.16 702.50,176.67 705.11,178.19 707.71,179.73 710.30,181.28 712.87,182.85 715.42,184.44 717.96,186.04" fill="#5A8EC2" />
<polygon points="462.06,47.76 465.36,47.78 468.66,47.83 471.95,47.89 475.25,47.98 478.54,48.08 481.84,48.20 485.13,48.35 488.42,48.51 491.71,48.69 495.00,48.89 498.28,49.11 501.57,49.35 504.85,49.62 508.13,49.90 511.40,50.20 514.68,50.51 517.95,50.85 521.21,51.21 524.48,51.59 527.74,51.99 530.99,52.41 534.24,52.84 537.49,53.30 540.73,53.77 543.97,54.27 547.21,54.78 550.44,55.32 553.66,55.87 556.88,56.44 560.09,57.04 563.30,57.65 566.50,58.28 569.70,58.93 572.89,59.60 576.07,60.29 579.25,60.99 582.42,61.72 585.59,62.47 588.74,63.23 591.89,64.02 595.03,64.82 598.17,65.64 601.29,66.48 604.41,67.34 607.52,68.22 610.62,69.12 613.72,70.04 616.80,70.97 619.88,71.93 622.94,72.90 626.00,73.89 629.05,74.90 632.08,75.93 635.11,76.98 638.13,78.05 641.14,79.13 644.13,80.23 647.12,81.36 650.10,82.50 653.06,83.65 656.02,84.83 658.96,86.03 661.89,87.24 664.81,88.47 667.72,89.72 670.61,90.99 673.49,92.27 676.36,93.57 679.22,94.90 682.07,96.23 684.90,97.59 687.72,98.96 690.52,100.36 693.32,101.77 696.09,103.19 698.86,104.64 701.61,106.10 704.34,107.58 707.07,109.07 709.77,110.59 712.46,112.12 715.14,113.67 717.80,115.23 720.45,116.81 723.08,118.41 725.70,120.03 717.96,186.04 715.42,184.44 712.87,182.85 710.30,181.28 707.71,179.73 705.11,178.19 702.50,176.67 699.87,175.16 697.22,173.68 694.57,172.21 691.89,170.76 689.21,169.32 686.51,167.90 683.80,166.50 681.07,165.12 678.33,163.75 675.58,162.41 672.81,161.08 670.04,159.76 667.25,158.47 664.45,157.19 661.63,155.93 658.81,154.69 655.97,153.47 653.12,152.26 650.26,151.08 647.39,149.91 644.50,148.76 641.61,147.63 638.71,146.51 635.79,145.41 632.87,144.34 629.94,143.28 626.99,142.24 624.04,141.21 621.07,140.21 618.10,139.23 615.12,138.26 612.13,137.31 609.13,136.38 606.12,135.47 603.10,134.58 600.08,133.71 597.05,132.85 594.01,132.02 590.96,131.20 587.90,130.40 584.84,129.62 581.77,128.86 578.69,128.12 575.61,127.40 572.51,126.70 569.42,126.01 566.31,125.35 563.20,124.71 560.09,124.08 556.97,123.47 553.84,122.88 550.71,122.32 547.57,121.77 544.43,121.24 541.28,120.73 538.13,120.24 534.98,119.76 531.82,119.31 528.65,118.88 525.48,118.47 522.31,118.07 519.14,117.70 515.96,117.34 512.77,117.01 509.59,116.69 506.40,116.39 503.21,116.12 500.02,115.86 496.82,115.62 493.63,115.40 490.43,115.20 487.23,115.02 484.02,114.86 480.82,114.72 477.61,114.60 474.41,114.50 471.20,114.42 467.99,114.36 464.79,114.31 461.58,114.29" fill="#5F95CA" />
<polygon points="462.73,331.46 462.06,47.76 465.36,47.78 468.66,47.83 471.95,47.89 475.25,47.98 478.54,48.08 481.84,48.20 485.13,48.35 488.42,48.51 491.71,48.69 495.00,48.89 498.28,49.11 501.57,49.35 504.85,49.62 508.13,49.90 511.40,50.20 514.68,50.51 517.95,50.85 521.21,51.21 524.48,51.59 527.74,51.99 530.99,52.41 534.24,52.84 537.49,53.30 540.73,53.77 543.97,54.27 547.21,54.78 550.44,55.32 553.66,55.87 556.88,56.44 560.09,57.04 563.30,57.65 566.50,58.28 569.70,58.93 572.89,59.60 576.07,60.29 579.25,60.99 582.42,61.72 585.59,62.47 588.74,63.23 591.89,64.02 595.03,64.82 598.17,65.64 601.29,66.48 604.41,67.34 607.52,68.22 610.62,69.12 613.72,70.04 616.80,70.97 619.88,71.93 622.94,72.90 626.00,73.89 629.05,74.90 632.08,75.93 635.11,76.98 638.13,78.05 641.14,79.13 644.13,80.23 647.12,81.36 650.10,82.50 653.06,83.65 656.02,84.83 658.96,86.03 661.89,87.24 664.81,88.47 667.72,89.72 670.61,90.99 673.49,92.27 676.36,93.57 679.22,94.90 682.07,96.23 684.90,97.59 687.72,98.96 690.52,100.36 693.32,101.77 696.09,103.19 698.86,104.64 701.61,106.10 704.34,107.58 707.07,109.07 709.77,110.59 712.46,112.12 715.14,113.67 717.80,115.23 720.45,116.81 723.08,118.41 725.70,120.03" fill="#6AA0D4" />
<polygon points="462.73,331.46 462.06,47.76 461.58,114.29 462.18,395.98" fill="#6AA0D4" />
<polygon points="462.73,331.46 725.70,120.03 717.96,186.04 462.18,395.98" fill="#6AA0D4" />
<polygon points="462.18,395.98 717.96,186.04 720.50,187.67 723.02,189.32 725.53,190.99 728.02,192.67 730.49,194.36 732.95,196.08 735.38,197.81 737.81,199.55 740.21,201.31 742.60,203.09 744.97,204.88 747.32,206.69 749.66,208.52 751.97,210.36 754.27,212.22 756.55,214.09 758.81,215.98 761.05,217.88 763.27,219.80 765.48,221.73 767.66,223.68 769.83,225.65 771.97,227.63 774.10,229.62 776.20,231.63 778.29,233.65 780.35,235.69 782.39,237.74 784.42,239.80 786.42,241.88 788.40,243.98 790.36,246.09 792.30,248.21 794.21,250.34 796.11,252.49 797.98,254.66 799.83,256.83 801.66,259.02 803.47,261.22 805.25,263.44 807.01,265.67 808.75,267.91 810.46,270.16 812.15,272.43 813.82,274.71 815.46,277.00 817.08,279.30 818.68,281.62 820.25,283.94 821.80,286.28 823.32,288.63" fill="#D97A36" />
<polygon points="725.70,120.03 728.31,121.67 730.91,123.33 733.49,125.00 736.05,126.69 738.60,128.40 741.13,130.13 743.64,131.87 746.14,133.63 748.62,135.40 751.08,137.19 753.52,139.00 755.94,140.82 758.35,142.66 760.74,144.51 763.10,146.38 765.45,148.27 767.78,150.17 770.10,152.08 772.39,154.02 774.66,155.96 776.91,157.93 779.14,159.90 781.36,161.90 783.55,163.90 785.72,165.93 787.87,167.96 790.00,170.02 792.11,172.08 794.20,174.16 796.26,176.26 798.31,178.37 800.33,180.49 802.33,182.63 804.31,184.78 806.27,186.95 808.20,189.13 810.11,191.32 812.00,193.52 813.86,195.74 815.71,197.98 817.53,200.22 819.32,202.48 821.09,204.75 822.84,207.03 824.56,209.33 826.26,211.64 827.94,213.96 829.59,216.29 831.21,218.64 832.82,221.00 834.39,223.37 823.32,288.63 821.80,286.28 820.25,283.94 818.68,281.62 817.08,279.30 815.46,277.00 813.82,274.71 812.15,272.43 810.46,270.16 808.75,267.91 807.01,265.67 805.25,263.44 803.47,261.22 801.66,259.02 799.83,256.83 797.98,254.66 796.11,252.49 794.21,250.34 792.30,248.21 790.36,246.09 788.40,243.98 786.42,241.88 784.42,239.80 782.39,237.74 780.35,235.69 778.29,233.65 776.20,231.63 774.10,229.62 771.97,227.63 769.83,225.65 767.66,223.68 765.48,221.73 763.27,219.80 761.05,217.88 758.81,215.98 756.55,214.09 754.27,212.22 751.97,210.36 749.66,208.52 747.32,206.69 744.97,204.88 742.60,203.09 740.21,201.31 737.81,199.55 735.38,197.81 732.95,196.08 730.49,194.36 728.02,192.67 725.53,190.99 723.02,189.32 720.50,187.67 717.96,186.04" fill="#E5843B" />
<polygon points="462.73,331.46 725.70,120.03 728.31,121.67 730.91,123.33 733.49,125.00 736.05,126.69 738.60,128.40 741.13,130.13 743.64,131.87 746.14,133.63 748.62,135.40 751.08,137.19 753.52,139.00 755.94,140.82 758.35,142.66 760.74,144.51 763.10,146.38 765.45,148.27 767.78,150.17 770.10,152.08 772.39,154.02 774.66,155.96 776.91,157.93 779.14,159.90 781.36,161.90 783.55,163.90 785.72,165.93 787.87,167.96 790.00,170.02 792.11,172.08 794.20,174.16 796.26,176.26 798.31,178.37 800.33,180.49 802.33,182.63 804.31,184.78 806.27,186.95 808.20,189.13 810.11,191.32 812.00,193.52 813.86,195.74 815.71,197.98 817.53,200.22 819.32,202.48 821.09,204.75 822.84,207.03 824.56,209.33 826.26,211.64 827.94,213.96 829.59,216.29 831.21,218.64 832.82,221.00 834.39,223.37" fill="#EE8B3F" />
<polygon points="462.73,331.46 725.70,120.03 717.96,186.04 462.18,395.98" fill="#E07E38" />
<polygon points="462.73,331.46 834.39,223.37 823.32,288.63 462.18,395.98" fill="#EE8B3F" />
<polygon points="462.18,395.98 823.32,288.63 824.83,291.01 826.31,293.39 827.76,295.79 829.19,298.20 830.60,300.62 831.98,303.05 833.33,305.49 834.66,307.94 835.96,310.40 837.24,312.87 838.49,315.36 839.71,317.85 840.91,320.35 842.07,322.86 843.22,325.39 844.33,327.92 845.42,330.46 846.48,333.01 847.51,335.56 848.51,338.13 849.49,340.70 850.44,343.29 851.36,345.88 852.25,348.48 853.11,351.09 853.95,353.70 854.75,356.33 855.53,358.96 856.28,361.59 857.00,364.24 857.69,366.89 858.35,369.55 858.98,372.21 859.58,374.88 860.15,377.56 860.70,380.24" fill="#98958F" />
<polygon points="834.39,223.37 835.95,225.76 837.48,228.16 838.99,230.58 840.47,233.01 841.93,235.45 843.36,237.90 844.76,240.36 846.13,242.83 847.48,245.32 848.81,247.81 850.10,250.31 851.37,252.83 852.61,255.35 853.82,257.88 855.01,260.43 856.16,262.98 857.29,265.54 858.39,268.11 859.47,270.69 860.51,273.28 861.52,275.88 862.51,278.49 863.47,281.10 864.40,283.72 865.30,286.36 866.17,288.99 867.01,291.64 867.82,294.30 868.60,296.96 869.35,299.63 870.07,302.30 870.76,304.98 871.42,307.67 872.05,310.37 872.65,313.07 873.22,315.78 860.70,380.24 860.15,377.56 859.58,374.88 858.98,372.21 858.35,369.55 857.69,366.89 857.00,364.24 856.28,361.59 855.53,358.96 854.75,356.33 853.95,353.70 853.11,351.09 852.25,348.48 851.36,345.88 850.44,343.29 849.49,340.70 848.51,338.13 847.51,335.56 846.48,333.01 845.42,330.46 844.33,327.92 843.22,325.39 842.07,322.86 840.91,320.35 839.71,317.85 838.49,315.36 837.24,312.87 835.96,310.40 834.66,307.94 833.33,305.49 831.98,303.05 830.60,300.62 829.19,298.20 827.76,295.79 826.31,293.39 824.83,291.01 823.32,288.63" fill="#A09D98" />
<polygon points="462.73,331.46 834.39,223.37 835.95,225.76 837.48,228.16 838.99,230.58 840.47,233.01 841.93,235.45 843.36,237.90 844.76,240.36 846.13,242.83 847.48,245.32 848.81,247.81 850.10,250.31 851.37,252.83 852.61,255.35 853.82,257.88 855.01,260.43 856.16,262.98 857.29,265.54 858.39,268.11 859.47,270.69 860.51,273.28 861.52,275.88 862.51,278.49 863.47,281.10 864.40,283.72 865.30,286.36 866.17,288.99 867.01,291.64 867.82,294.30 868.60,296.96 869.35,299.63 870.07,302.30 870.76,304.98 871.42,307.67 872.05,310.37 872.65,313.07 873.22,315.78" fill="#A6A39F" />
<polygon points="462.73,331.46 834.39,223.37 823.32,288.63 462.18,395.98" fill="#ADAAA5" />
<polygon points="462.73,331.46 873.22,315.78 860.70,380.24 462.18,395.98" fill="#A6A39F" />
<polygon points="462.18,395.98 860.70,380.24 861.21,382.92 861.69,385.60 862.14,388.29 862.56,390.99 862.95,393.69 863.31,396.39 863.64,399.10 863.94,401.82 864.21,404.53 864.45,407.26 864.65,409.98 864.83,412.71 864.97,415.44 865.09,418.18 865.17,420.91 865.22,423.66 865.24,426.40 865.23,429.14 865.19,431.89 865.12,434.64 865.01,437.39 864.87,440.14 864.70,442.90 864.50,445.65 864.27,448.41 864.01,451.16 863.71,453.92 863.38,456.67 863.02,459.43 862.63,462.18 862.20,464.94 861.74,467.69 861.25,470.44" fill="#E5AE10" />
<polygon points="873.22,315.78 873.76,318.48 874.26,321.19 874.74,323.91 875.18,326.63 875.60,329.36 875.98,332.09 876.33,334.82 876.65,337.56 876.94,340.31 877.19,343.06 877.42,345.81 877.61,348.57 877.77,351.33 877.90,354.09 878.00,356.85 878.06,359.62 878.09,362.39 878.09,365.17 878.06,367.94 877.99,370.72 877.90,373.50 877.77,376.28 877.60,379.06 877.41,381.85 877.18,384.63 876.92,387.42 876.62,390.20 876.29,392.99 875.93,395.77 875.54,398.56 875.11,401.34 874.65,404.13 874.16,406.91 861.25,470.44 861.74,467.69 862.20,464.94 862.63,462.18 863.02,459.43 863.38,456.67 863.71,453.92 864.01,451.16 864.27,448.41 864.50,445.65 864.70,442.90 864.87,440.14 865.01,437.39 865.12,434.64 865.19,431.89 865.23,429.14 865.24,426.40 865.22,423.66 865.17,420.91 865.09,418.18 864.97,415.44 864.83,412.71 864.65,409.98 864.45,407.26 864.21,404.53 863.94,401.82 863.64,399.10 863.31,396.39 862.95,393.69 862.56,390.99 862.14,388.29 861.69,385.60 861.21,382.92 860.70,380.24" fill="#EDB612" />
<polygon points="462.73,331.46 873.22,315.78 873.76,318.48 874.26,321.19 874.74,323.91 875.18,326.63 875.60,329.36 875.98,332.09 876.33,334.82 876.65,337.56 876.94,340.31 877.19,343.06 877.42,345.81 877.61,348.57 877.77,351.33 877.90,354.09 878.00,356.85 878.06,359.62 878.09,362.39 878.09,365.17 878.06,367.94 877.99,370.72 877.90,373.50 877.77,376.28 877.60,379.06 877.41,381.85 877.18,384.63 876.92,387.42 876.62,390.20 876.29,392.99 875.93,395.77 875.54,398.56 875.11,401.34 874.65,404.13 874.16,406.91" fill="#F6BC14" />
<polygon points="462.73,331.46 873.22,315.78 860.70,380.24 462.18,395.98" fill="#F4BA13" />
<polygon points="462.73,331.46 874.16,406.91 861.25,470.44 462.18,395.98" fill="#F6BC14" />
<polygon points="462.18,395.98 861.25,470.44 860.73,473.18 860.18,475.92 859.60,478.65 858.98,481.39 858.33,484.12 857.65,486.85 856.94,489.57 856.19,492.29 855.42,495.01 854.61,497.73 853.77,500.44 852.89,503.15 851.98,505.86 851.05,508.56 850.07,511.25 849.07,513.94 848.04,516.63 846.97,519.31 845.87,521.99 844.73,524.66 843.57,527.32 842.37,529.98 841.14,532.63 839.88,535.28 838.59,537.91 837.26,540.54 835.90,543.17 834.51,545.78 833.09,548.39 831.64,550.99 830.15,553.58 828.63,556.16 827.08,558.74 825.50,561.30" fill="#3E68A8" />
<polygon points="462.73,331.46 874.16,406.91 873.63,409.68 873.07,412.45 872.48,415.21 871.86,417.97 871.20,420.74 870.51,423.50 869.79,426.25 869.03,429.01 868.24,431.76 867.41,434.50 866.56,437.25 865.67,439.99 864.74,442.72 863.78,445.46 862.79,448.18 861.77,450.91 860.71,453.62 859.62,456.34 858.50,459.05 857.34,461.75 856.15,464.44 854.92,467.13 853.66,469.82 852.37,472.49 851.05,475.16 849.69,477.82 848.30,480.48 846.88,483.13 845.42,485.77 843.93,488.40 842.41,491.02 840.85,493.64 839.26,496.24 837.64,498.84" fill="#5C8BD0" />
<polygon points="462.73,331.46 874.16,406.91 861.25,470.44 462.18,395.98" fill="#5880BC" />
<polygon points="462.73,331.46 837.64,498.84 825.50,561.30 462.18,395.98" fill="#4A79BD" />
<polygon points="874.16,406.91 873.63,409.68 873.07,412.45 872.48,415.21 871.86,417.97 871.20,420.74 870.51,423.50 869.79,426.25 869.03,429.01 868.24,431.76 867.41,434.50 866.56,437.25 865.67,439.99 864.74,442.72 863.78,445.46 862.79,448.18 861.77,450.91 860.71,453.62 859.62,456.34 858.50,459.05 857.34,461.75 856.15,464.44 854.92,467.13 853.66,469.82 852.37,472.49 851.05,475.16 849.69,477.82 848.30,480.48 846.88,483.13 845.42,485.77 843.93,488.40 842.41,491.02 840.85,493.64 839.26,496.24 837.64,498.84 825.50,561.30 827.08,558.74 828.63,556.16 830.15,553.58 831.64,550.99 833.09,548.39 834.51,545.78 835.90,543.17 837.26,540.54 838.59,537.91 839.88,535.28 841.14,532.63 842.37,529.98 843.57,527.32 844.73,524.66 845.87,521.99 846.97,519.31 848.04,516.63 849.07,513.94 850.07,511.25 851.05,508.56 851.98,505.86 852.89,503.15 853.77,500.44 854.61,497.73 855.42,495.01 856.19,492.29 856.94,489.57 857.65,486.85 858.33,484.12 858.98,481.39 859.60,478.65 860.18,475.92 860.73,473.18 861.25,470.44" fill="url(#gChi)" />
<rect x="456" y="48.5" width="6" height="283" fill="#2E4A78" opacity="0.45"/>
</g>
<line x1="462.73" y1="331.46" x2="725.70" y2="120.03" fill="none" stroke="#1A2030" stroke-linejoin="round" stroke-width="0.8" stroke-opacity="0.4"/>
<line x1="462.73" y1="331.46" x2="834.39" y2="223.37" fill="none" stroke="#1A2030" stroke-linejoin="round" stroke-width="0.8" stroke-opacity="0.4"/>
<line x1="462.73" y1="331.46" x2="873.22" y2="315.78" fill="none" stroke="#1A2030" stroke-linejoin="round" stroke-width="0.8" stroke-opacity="0.4"/>
<line x1="462.73" y1="331.46" x2="874.16" y2="406.91" fill="none" stroke="#1A2030" stroke-linejoin="round" stroke-width="0.8" stroke-opacity="0.4"/>
<line x1="462.73" y1="331.46" x2="837.64" y2="498.84" fill="none" stroke="#1A2030" stroke-linejoin="round" stroke-width="0.8" stroke-opacity="0.4"/>
<line x1="462.73" y1="331.46" x2="763.44" y2="580.07" fill="none" stroke="#1A2030" stroke-linejoin="round" stroke-width="0.8" stroke-opacity="0.12"/>
<line x1="462.73" y1="331.46" x2="670.01" y2="635.32" fill="none" stroke="#1A2030" stroke-linejoin="round" stroke-width="0.8" stroke-opacity="0.4"/>
<line x1="462.73" y1="331.46" x2="557.22" y2="668.72" fill="none" stroke="#1A2030" stroke-linejoin="round" stroke-width="0.8" stroke-opacity="0.4"/>
<line x1="462.73" y1="331.46" x2="443.51" y2="676.41" fill="none" stroke="#1A2030" stroke-linejoin="round" stroke-width="0.8" stroke-opacity="0.4"/>
<line x1="462.73" y1="331.46" x2="334.23" y2="661.25" fill="none" stroke="#1A2030" stroke-linejoin="round" stroke-width="0.8" stroke-opacity="0.4"/>
<polyline points="462.06,47.76 465.36,47.78 468.65,47.83 471.95,47.89 475.24,47.98 478.53,48.08 481.82,48.20 485.11,48.34 488.40,48.51 491.69,48.69 494.97,48.89 498.26,49.11 501.54,49.35 504.82,49.61 508.09,49.89 511.37,50.19 514.64,50.51 517.91,50.85 521.17,51.21 524.43,51.59 527.69,51.98 530.94,52.40 534.19,52.84 537.44,53.29 540.68,53.77 543.92,54.26 547.15,54.77 550.38,55.31 553.60,55.86 556.82,56.43 560.03,57.02 563.23,57.63 566.43,58.26 569.63,58.91 572.82,59.58 576.00,60.27 579.17,60.98 582.34,61.70 585.50,62.45 588.66,63.21 591.80,63.99 594.94,64.80 598.08,65.62 601.20,66.46 604.32,67.32 607.42,68.19 610.52,69.09 613.62,70.01 616.70,70.94 619.77,71.89 622.84,72.87 625.89,73.86 628.94,74.87 631.97,75.89 635.00,76.94 638.01,78.00 641.02,79.09 644.02,80.19 647.00,81.31 649.98,82.45 652.94,83.61 655.89,84.78 658.83,85.97 661.76,87.18 664.68,88.41 667.58,89.66 670.48,90.93 673.36,92.21 676.23,93.51 679.08,94.83 681.93,96.17 684.76,97.52 687.58,98.90 690.38,100.29 693.17,101.69 695.95,103.12 698.71,104.56 701.46,106.02 704.20,107.50 706.92,108.99 709.62,110.50 712.31,112.03 714.99,113.58 717.65,115.14 720.30,116.72 722.93,118.32 725.54,119.93 728.14,121.56 730.72,123.21 733.29,124.87 735.84,126.55 738.37,128.25 740.88,129.96 743.38,131.69 745.87,133.43 748.33,135.19 750.78,136.97 753.21,138.76 755.62,140.57 758.01,142.40 760.39,144.24 762.74,146.09 765.08,147.96 767.40,149.85 769.70,151.75 771.98,153.67 774.24,155.60 776.48,157.55 778.71,159.51 780.91,161.49 783.09,163.48 785.25,165.49 787.40,167.51 789.52,169.55 791.62,171.60 793.70,173.66 795.76,175.74 797.79,177.83 799.81,179.94 801.80,182.06 803.77,184.20 805.72,186.34 807.65,188.50 809.56,190.68 811.44,192.87 813.30,195.07 815.14,197.28 816.95,199.51 818.75,201.75 820.51,204.00 822.26,206.27 823.98,208.55 825.68,210.84 827.35,213.14 829.00,215.45 830.62,217.78 832.22,220.12 833.80,222.47 835.35,224.83 836.88,227.20 838.38,229.59 839.85,231.98 841.30,234.39 842.72,236.81 844.12,239.24 845.49,241.67 846.84,244.12 848.16,246.58 849.45,249.05 850.72,251.53 851.96,254.02 853.17,256.52 854.36,259.03 855.52,261.55 856.65,264.07 857.75,266.61 858.83,269.16 859.88,271.71 860.90,274.27 861.89,276.84 862.86,279.42 863.79,282.01 864.70,284.61 865.58,287.21 866.43,289.82 867.25,292.44 868.05,295.07 868.81,297.70 869.55,300.34 870.25,302.99 870.93,305.64 871.57,308.30 872.19,310.96 872.77,313.64 873.33,316.31 873.86,319.00 874.35,321.69 874.82,324.38 875.25,327.08 875.66,329.78 876.03,332.49 876.38,335.21 876.69,337.92 876.97,340.65 877.22,343.37 877.44,346.10 877.63,348.83 877.78,351.57 877.91,354.31 878.00,357.05 878.06,359.80 878.09,362.55 878.09,365.30 878.06,368.05 877.99,370.80 877.89,373.56 877.76,376.32 877.60,379.08 877.41,381.84 877.18,384.60 876.92,387.36 876.63,390.12 876.31,392.88 875.95,395.65 875.56,398.41 875.14,401.17 874.68,403.93 874.20,406.69 873.68,409.45 873.12,412.21 872.54,414.96 871.92,417.72 871.27,420.47 870.58,423.22 869.86,425.96 869.11,428.71 868.33,431.45 867.51,434.19 866.66,436.92 865.78,439.65 864.86,442.38 863.91,445.10 862.93,447.82 861.91,450.54 860.86,453.25 859.78,455.95 858.66,458.65 857.51,461.34 856.33,464.03 855.12,466.71 853.87,469.39 852.59,472.05 851.27,474.72 849.93,477.37 848.55,480.02 847.13,482.66 845.69,485.29 844.21,487.91 842.70,490.53 841.15,493.13 839.57,495.73 837.97,498.32 836.32,500.90 834.65,503.47 832.94,506.03 831.20,508.58 829.43,511.12 827.63,513.65 825.79,516.17 823.92,518.68 822.02,521.18 820.09,523.66 818.13,526.14 816.13,528.60 814.11,531.05 812.05,533.48 809.96,535.91 807.84,538.32 805.69,540.72 803.51,543.10 801.29,545.47 799.05,547.83 796.78,550.17 794.47,552.50 792.14,554.81 789.77,557.11 787.38,559.39 784.95,561.66 782.50,563.91 780.02,566.15 777.50,568.37 774.96,570.57 772.39,572.76 769.79,574.93 767.16,577.08 764.51,579.22 761.82,581.34 759.11,583.44 756.37,585.52 753.60,587.58 750.81,589.63 747.99,591.66 745.14,593.66 742.26,595.65 739.36,597.62 736.43,599.57 733.48,601.50 730.50,603.41 727.49,605.30 724.46,607.17 721.41,609.02 718.33,610.85 715.22,612.65 712.09,614.44 708.94,616.20 705.76,617.94 702.56,619.66 699.34,621.36 696.09,623.04 692.82,624.69 689.53,626.32 686.22,627.93 682.88,629.51 679.52,631.07 676.14,632.61 672.75,634.12 669.33,635.61 665.89,637.08 662.43,638.52 658.95,639.94 655.45,641.33 651.93,642.70 648.39,644.04 644.84,645.36 641.26,646.65 637.67,647.92 634.06,649.16 630.44,650.38 626.80,651.57 623.14,652.74 619.46,653.88 615.77,654.99 612.07,656.07 608.35,657.13 604.61,658.17 600.86,659.17 597.10,660.15 593.32,661.10 589.53,662.03 585.73,662.93 581.91,663.80 578.08,664.64 574.24,665.46 570.39,666.25 566.53,667.01 562.66,667.74 558.78,668.44 554.88,669.12 550.98,669.77 547.07,670.39 543.15,670.98 539.22,671.54 535.29,672.08 531.35,672.58 527.40,673.06 523.44,673.51 519.48,673.93 515.51,674.32 511.53,674.68 507.55,675.02 503.57,675.32 499.58,675.60 495.59,675.85 491.59,676.06 487.59,676.25 483.59,676.41 479.58,676.54 475.58,676.65 471.57,676.72 467.56,676.76 463.55,676.78 459.54,676.76 455.53,676.72 451.52,676.65 447.51,676.54 443.51,676.41 439.50,676.25 435.50,676.06 431.50,675.84 427.50,675.60 423.50,675.32 419.51,675.01 415.53,674.68 411.54,674.31 407.57,673.92 403.60,673.50 399.63,673.05 395.67,672.57 391.72,672.06 387.77,671.53 383.83,670.96 379.90,670.37 375.98,669.75 372.06,669.10 368.16,668.42 364.26,667.71 360.37,666.98 356.50,666.22 352.63,665.43 348.77,664.61 344.93,663.76 341.10,662.89 337.28,661.99 333.47,661.06 329.67,660.11 325.89,659.12 322.12,658.11 318.37,657.08 314.62,656.01 310.90,654.92 307.19,653.81 303.49,652.66 299.81,651.50 296.14,650.30 292.50,649.08 288.86,647.83 285.25,646.56 281.65,645.26 278.07,643.94 274.51,642.59 270.97,641.21 267.44,639.81 263.94,638.39 260.45,636.94 256.98,635.47 253.54,633.97 250.11,632.45 246.70,630.91 243.32,629.34 239.95,627.75 236.61,626.13 233.29,624.49 229.99,622.83 226.72,621.15 223.46,619.44 220.23,617.71 217.02,615.96 213.84,614.19 210.68,612.40 207.54,610.58 204.43,608.74 201.35,606.88 198.28,605.00 195.25,603.10 192.23,601.18 189.25,599.24 186.29,597.28 183.35,595.30 180.45,593.30 177.57,591.28 174.71,589.24 171.88,587.19 169.08,585.11 166.31,583.01 163.57,580.90 160.85,578.77 158.16,576.62 155.50,574.45 152.87,572.27 150.26,570.07 147.69,567.85 145.14,565.62 142.63,563.37 140.14,561.10 137.68,558.82 135.26,556.52 132.86,554.21 130.49,551.88 128.15,549.54 125.85,547.18 123.57,544.81 121.32,542.42 119.11,540.02 116.93,537.61 114.77,535.18 112.65,532.74 110.56,530.28 108.50,527.82 106.48,525.34 104.48,522.85 102.52,520.35 100.59,517.83 98.69,515.31 96.82,512.77 94.99,510.22 93.19,507.67 91.42,505.10 89.68,502.52 87.97,499.93 86.30,497.33 84.66,494.73 83.06,492.11 81.48,489.48 79.94,486.85 78.44,484.21 76.96,481.56 75.52,478.90 74.11,476.23 72.74,473.56 71.40,470.88 70.09,468.19 68.81,465.50 67.57,462.80 66.36,460.09 65.19,457.38 64.05,454.67 62.94,451.94 61.87,449.21 60.83,446.48 59.82,443.74 58.84,441.00 57.90,438.26 57.00,435.51 56.12,432.75 55.28,430.00 54.48,427.24 53.71,424.47 52.97,421.71 52.26,418.94 51.59,416.17 50.95,413.40 50.34,410.62 49.77,407.85 49.23,405.07 48.72,402.29 48.25,399.51 47.81,396.74 47.40,393.96 47.03,391.18 46.69,388.40 46.38,385.62 46.10,382.84 45.86,380.06 45.65,377.28 45.48,374.51 45.33,371.73 45.22,368.96 45.14,366.19 45.09,363.42 45.08,360.65 45.09,357.89 45.14,355.13 45.23,352.37 45.34,349.61 45.48,346.86 45.66,344.11 45.87,341.37 46.11,338.63 46.38,335.89 46.68,333.16 47.02,330.43 47.38,327.71 47.78,324.99 48.21,322.28 48.67,319.57 49.16,316.87 49.68,314.17 50.23,311.48 50.81,308.80 51.42,306.12 52.06,303.45 52.73,300.78 53.43,298.12 54.16,295.47 54.92,292.83 55.71,290.19 56.53,287.56 57.37,284.94 58.25,282.33 59.16,279.73 60.09,277.13 61.06,274.54 62.05,271.96 63.07,269.39 64.12,266.83 65.19,264.27 66.30,261.73 67.43,259.19 68.59,256.67 69.78,254.15 70.99,251.65 72.23,249.15 73.50,246.67 74.80,244.19 76.12,241.73 77.47,239.27 78.85,236.83 80.25,234.40 81.67,231.98 83.13,229.57 84.61,227.17 86.11,224.78 87.64,222.41 89.20,220.04 90.78,217.69 92.39,215.35 94.02,213.02 95.67,210.71 97.35,208.40 99.05,206.11 100.78,203.83 102.53,201.57 104.31,199.32 106.11,197.08 107.93,194.85 109.78,192.64 111.64,190.44 113.54,188.25 115.45,186.08 117.39,183.92 119.35,181.78 121.33,179.65 123.33,177.53 125.35,175.43 127.40,173.34 129.47,171.27 131.56,169.21 133.67,167.16 135.80,165.13 137.95,163.12 140.12,161.12 142.32,159.13 144.53,157.16 146.76,155.21 149.02,153.27 151.29,151.35 153.58,149.44 155.89,147.54 158.22,145.67 160.57,143.81 162.94,141.96 165.32,140.13 167.73,138.32 170.15,136.52 172.59,134.74 175.05,132.97 177.53,131.22 180.02,129.49 182.53,127.77 185.06,126.07 187.60,124.39 190.16,122.73 192.74,121.08 195.34,119.44 197.95,117.83 200.57,116.23 203.21,114.65 205.87,113.09 208.54,111.54 211.23,110.01 213.93,108.50 216.65,107.00 219.38,105.52 222.13,104.06 224.89,102.62 227.67,101.20 230.45,99.79 233.26,98.40 236.07,97.03 238.90,95.68 241.74,94.34 244.60,93.02 247.47,91.73 250.35,90.44 253.24,89.18 256.14,87.94 259.06,86.71 261.99,85.50 264.93,84.31 267.88,83.14 270.84,81.99 273.82,80.85 276.80,79.74 279.80,78.64 282.80,77.56 285.82,76.50 288.84,75.46 291.88,74.43 294.92,73.43 297.98,72.45 301.04,71.48 304.12,70.53 307.20,69.60 310.29,68.69 313.39,67.80 316.50,66.93 319.62,66.08 322.74,65.24 325.87,64.43 329.01,63.64 332.16,62.86 335.32,62.10 338.48,61.36 341.65,60.65 344.82,59.95 348.01,59.27 351.19,58.61 354.39,57.97 357.59,57.34 360.80,56.74 364.01,56.16 367.23,55.59 370.45,55.05 373.68,54.53 376.91,54.02 380.15,53.53 383.39,53.07 386.63,52.62 389.88,52.19 393.14,51.79 396.40,51.40 399.66,51.03 402.92,50.68 406.19,50.35 409.46,50.04 412.74,49.75 416.01,49.48 419.29,49.23 422.58,49.00 425.86,48.79 429.14,48.60 432.43,48.42 435.72,48.27 439.01,48.14 442.30,48.03 445.59,47.93 448.89,47.86 452.18,47.80 455.48,47.77 458.77,47.75 462.06,47.76" fill="none" stroke="#1A2030" stroke-linejoin="round" stroke-width="0.8" stroke-opacity="0.35"/>
<polyline points="62.83,477.25 62.23,474.50 61.67,471.76 61.13,469.02 60.63,466.27 60.16,463.52 59.73,460.77 59.32,458.02 58.95,455.27 58.61,452.52 58.30,449.78 58.02,447.03 57.78,444.28 57.57,441.53 57.38,438.79 57.23,436.04 57.12,433.30 57.03,430.55 56.97,427.81 56.95,425.08 56.96,422.34 56.99,419.61 57.06,416.88 57.16,414.15 57.29,411.43 57.46,408.71 57.65,405.99 57.87,403.27 58.13,400.57 58.41,397.86 58.73,395.16 59.07,392.46 59.45,389.77 59.85,387.08 60.29,384.40 60.75,381.73 61.25,379.05 61.77,376.39 62.32,373.73 62.91,371.08 63.52,368.43 64.16,365.79 64.83,363.16 65.53,360.53 66.26,357.91 67.02,355.30 67.80,352.69 68.62,350.09 69.46,347.50 70.33,344.92 71.23,342.35 72.15,339.78 73.11,337.22 74.09,334.67 75.10,332.13 76.14,329.60 77.20,327.08 78.29,324.56 79.41,322.06 80.55,319.56 81.72,317.08 82.92,314.60 84.15,312.14 85.40,309.68 86.67,307.24 87.98,304.80 89.30,302.38 90.66,299.96 92.04,297.56 93.44,295.17 94.87,292.79 96.32,290.42 97.80,288.06 99.31,285.72 100.83,283.38 102.39,281.06 103.96,278.75 105.56,276.45 107.19,274.16 108.84,271.89 110.51,269.63 112.20,267.38 113.92,265.14 115.66,262.92 117.43,260.71 119.21,258.51 121.02,256.33 122.85,254.15 124.71,252.00 126.58,249.85 128.48,247.72 130.40,245.61 132.34,243.50 134.30,241.41 136.28,239.34 138.29,237.28 140.31,235.23 142.36,233.20 144.42,231.18 146.51,229.18 148.62,227.19 150.74,225.22 152.89,223.26 155.05,221.32 157.24,219.39 159.44,217.48 161.66,215.58 163.91,213.70 166.17,211.83 168.44,209.98 170.74,208.15 173.06,206.33 175.39,204.52 177.74,202.73 180.11,200.96 182.50,199.21 184.90,197.47 187.32,195.74 189.76,194.04 192.21,192.35 194.68,190.67 197.17,189.02 199.67,187.37 202.19,185.75 204.72,184.14 207.27,182.55 209.84,180.98 212.42,179.42 215.01,177.88 217.62,176.36 220.25,174.86 222.89,173.37 225.54,171.90 228.21,170.44 230.89,169.01 233.59,167.59 236.30,166.19 239.02,164.81 241.76,163.44 244.51,162.09 247.27,160.76 250.04,159.45 252.83,158.16 255.63,156.88 258.44,155.63 261.26,154.39 264.10,153.16 266.94,151.96 269.80,150.77 272.67,149.61 275.55,148.46 278.44,147.33 281.34,146.22 284.26,145.12 287.18,144.05 290.11,142.99 293.05,141.95 296.01,140.93 298.97,139.93 301.94,138.95 304.92,137.99 307.91,137.04 310.90,136.12 313.91,135.21 316.93,134.32 319.95,133.45 322.98,132.60 326.02,131.77 329.07,130.96 332.12,130.17 335.18,129.39 338.25,128.64 341.33,127.90 344.41,127.19 347.50,126.49 350.59,125.81 353.70,125.15 356.80,124.51 359.92,123.89 363.04,123.29 366.16,122.71 369.29,122.14 372.43,121.60 375.57,121.08 378.71,120.57 381.86,120.09 385.02,119.62 388.18,119.17 391.34,118.75 394.51,118.34 397.68,117.95 400.85,117.58 404.03,117.23 407.21,116.90 410.39,116.59 413.58,116.30 416.76,116.03 419.96,115.78 423.15,115.55 426.34,115.34 429.54,115.14 432.74,114.97 435.94,114.82 439.14,114.68 442.35,114.57 445.55,114.47 448.75,114.40 451.96,114.34 455.17,114.31 458.37,114.29 461.58,114.29 464.78,114.31 467.99,114.36 471.19,114.42 474.40,114.50 477.60,114.60 480.81,114.72 484.01,114.86 487.21,115.02 490.41,115.20 493.60,115.40 496.80,115.62 499.99,115.86 503.18,116.11 506.37,116.39 509.56,116.69 512.74,117.00 515.92,117.34 519.10,117.69 522.27,118.07 525.44,118.46 528.60,118.87 531.77,119.31 534.92,119.76 538.08,120.23 541.23,120.72 544.37,121.23 547.51,121.76 550.65,122.31 553.78,122.87 556.90,123.46 560.02,124.07 563.13,124.69 566.24,125.34 569.34,126.00 572.44,126.68 575.53,127.38 578.61,128.10 581.69,128.84 584.75,129.60 587.82,130.38 590.87,131.18 593.92,131.99 596.95,132.83 599.99,133.68 603.01,134.55 606.02,135.44 609.03,136.35 612.03,137.28 615.02,138.23 618.00,139.19 620.97,140.18 623.93,141.18 626.88,142.20 629.82,143.24 632.76,144.30 635.68,145.37 638.59,146.47 641.49,147.58 644.39,148.71 647.27,149.86 650.14,151.03 653.00,152.21 655.84,153.42 658.68,154.64" fill="none" stroke="#1A2030" stroke-linejoin="round" stroke-width="0.8" stroke-opacity="0.2"/>
<polyline points="861.78,467.50 861.29,470.23 860.78,472.95 860.23,475.68 859.65,478.41 859.04,481.13 858.40,483.85 857.72,486.57 857.02,489.29 856.28,492.00 855.51,494.71 854.70,497.42 853.87,500.12 853.00,502.82 852.10,505.52 851.17,508.21 850.21,510.90 849.21,513.58 848.18,516.26 847.12,518.93 846.03,521.60 844.91,524.26 843.75,526.91 842.56,529.56 841.34,532.21 840.09,534.84 838.81,537.47 837.49,540.09 836.14,542.71 834.76,545.32 833.35,547.92 831.91,550.51 830.43,553.09 828.93,555.67 827.39,558.23 825.82,560.79 824.22,563.34 822.59,565.88 820.92,568.41 819.23,570.92 817.50,573.43 815.75,575.93 813.96,578.42 812.14,580.89 810.29,583.36 808.41,585.81 806.50,588.25 804.56,590.68 802.59,593.10 800.59,595.51 798.55,597.90 796.49,600.28 794.40,602.65 792.28,605.00 790.13,607.34 787.94,609.66 785.73,611.98 783.49,614.27 781.22,616.56 778.93,618.82 776.60,621.08 774.25,623.31 771.86,625.54 769.45,627.74 767.01,629.93 764.54,632.11 762.04,634.26 759.52,636.40 756.97,638.53 754.39,640.63 751.78,642.72 749.15,644.79 746.49,646.85 743.81,648.88 741.09,650.90 738.36,652.90 735.59,654.88 732.80,656.84 729.99,658.78 727.15,660.71 724.28,662.61 721.39,664.49 718.48,666.36 715.54,668.20 712.57,670.02 709.59,671.82 706.58,673.60 703.54,675.36 700.48,677.10 697.40,678.82 694.30,680.52 691.18,682.19 688.03,683.84 684.86,685.47 681.67,687.08 678.46,688.66 675.23,690.22 671.97,691.76 668.70,693.28 665.41,694.77 662.09,696.24 658.76,697.68 655.41,699.11 652.04,700.50 648.65,701.88 645.24,703.22 641.82,704.55 638.37,705.85 634.91,707.12 631.43,708.37 627.94,709.60 624.43,710.80 620.90,711.97 617.36,713.12 613.80,714.24 610.23,715.34 606.64,716.41 603.04,717.45 599.42,718.47 595.79,719.46 592.15,720.43 588.49,721.37 584.82,722.28 581.14,723.17 577.45,724.03 573.74,724.86 570.03,725.66 566.30,726.44 562.56,727.19 558.81,727.91 555.06,728.61 551.29,729.27 547.51,729.91 543.73,730.52 539.94,731.11 536.13,731.66 532.33,732.19 528.51,732.69 524.69,733.16 520.86,733.61 517.02,734.02 513.18,734.41 509.34,734.77 505.49,735.10 501.63,735.40 497.77,735.67 493.91,735.92 490.04,736.13 486.17,736.32 482.30,736.48 478.42,736.61 474.55,736.71 470.67,736.79 466.79,736.83 462.91,736.85 459.03,736.83 455.15,736.79 451.27,736.72 447.40,736.62 443.52,736.49 439.64,736.34 435.77,736.15 431.90,735.94 428.03,735.70 424.17,735.43 420.31,735.13 416.45,734.80 412.60,734.44 408.75,734.06 404.91,733.65 401.07,733.20 397.24,732.74 393.41,732.24 389.59,731.71 385.78,731.16 381.98,730.58 378.18,729.97 374.39,729.33 370.61,728.66 366.84,727.97 363.08,727.25 359.33,726.50 355.59,725.72 351.86,724.92 348.14,724.09 344.43,723.23 340.73,722.35 337.05,721.43 333.37,720.49 329.71,719.53 326.06,718.54 322.43,717.52 318.81,716.47 315.20,715.40 311.61,714.30 308.03,713.18 304.47,712.03 300.92,710.86 297.39,709.66 293.87,708.43 290.37,707.18 286.89,705.90 283.42,704.60 279.97,703.27 276.54,701.92 273.13,700.55 269.73,699.14 266.35,697.72 263.00,696.27 259.66,694.80 256.34,693.30 253.04,691.78 249.76,690.24 246.50,688.67 243.27,687.09 240.05,685.47 236.85,683.84 233.68,682.18 230.53,680.50 227.40,678.80 224.29,677.08 221.20,675.33 218.14,673.57 215.10,671.78 212.08,669.97 209.09,668.14 206.12,666.29 203.18,664.42 200.26,662.53 197.36,660.62 194.49,658.69 191.65,656.73 188.83,654.76 186.04,652.78 183.27,650.77 180.52,648.74 177.81,646.70 175.12,644.63 172.46,642.55 169.82,640.45 167.21,638.33 164.63,636.20 162.07,634.05 159.55,631.88 157.05,629.70 154.58,627.49 152.14,625.28 149.72,623.04 147.33,620.79 144.98,618.53 142.65,616.25 140.35,613.95 138.08,611.64 135.84,609.32 133.63,606.98 131.45,604.63 129.29,602.26 127.17,599.88 125.08,597.49 123.02,595.08 120.99,592.66 118.99,590.23 117.01,587.78 115.07,585.33 113.16,582.86 111.29,580.38 109.44,577.89 107.62,575.39 105.84,572.87 104.08,570.35 102.36,567.82 100.67,565.27 99.01,562.72 97.38,560.15 95.78,557.58 94.22,555.00 92.69,552.41 91.19,549.81 89.72,547.20 88.28,544.58 86.87,541.96 85.50,539.33 84.16,536.69 82.85,534.04 81.57,531.39 80.33,528.73 79.12,526.06 77.94,523.39 76.79,520.71 75.67,518.03 74.59,515.34 73.54,512.64 72.52,509.94 71.54,507.24 70.58,504.53 69.66,501.82 68.77,499.10 67.92,496.38 67.09,493.65 66.30,490.93 65.54,488.20 64.82,485.46 64.12,482.73 63.46,479.99 62.83,477.25 62.23,474.50 61.67,471.76 61.13,469.02 60.63,466.27 60.16,463.52 59.73,460.77" fill="none" stroke="#1A2030" stroke-linejoin="round" stroke-width="0.8" stroke-opacity="0.3"/>
<line x1="874.16" y1="406.91" x2="861.25" y2="470.44" fill="none" stroke="#1A2030" stroke-linejoin="round" stroke-width="0.8" stroke-opacity="0.3"/>
<line x1="837.64" y1="498.84" x2="825.50" y2="561.30" fill="none" stroke="#1A2030" stroke-linejoin="round" stroke-width="0.8" stroke-opacity="0.3"/>
<line x1="763.44" y1="580.07" x2="753.35" y2="641.47" fill="none" stroke="#1A2030" stroke-linejoin="round" stroke-width="0.8" stroke-opacity="0.3"/>
<line x1="670.01" y1="635.32" x2="662.76" y2="695.95" fill="none" stroke="#1A2030" stroke-linejoin="round" stroke-width="0.8" stroke-opacity="0.3"/>
<line x1="557.22" y1="668.72" x2="553.55" y2="728.88" fill="none" stroke="#1A2030" stroke-linejoin="round" stroke-width="0.8" stroke-opacity="0.3"/>
<line x1="443.51" y1="676.41" x2="443.52" y2="736.49" fill="none" stroke="#1A2030" stroke-linejoin="round" stroke-width="0.8" stroke-opacity="0.3"/>
<line x1="334.23" y1="661.25" x2="337.78" y2="721.62" fill="none" stroke="#1A2030" stroke-linejoin="round" stroke-width="0.8" stroke-opacity="0.3"/>
<text x="265" y="383.5" textLength="457" lengthAdjust="spacingAndGlyphs" style="font-family:'Liberation Serif',serif;font-weight:bold;font-size:26px;fill:#FFFFFF;opacity:0.19">MOLD Street MOLD Street MOLD Street</text>
<rect x="554.5" y="80.3" width="60.1" height="42.2" fill="#000" opacity="0.18" filter="url(#blur)"/>
<rect x="553.0" y="78.8" width="60.1" height="42.2" fill="#F4F5F6" fill-opacity="0.95"/>
<text transform="translate(583.0,95.1) scale(0.93,1)" class="lb">Străşeni</text>
<text transform="translate(583.0,114.9) scale(0.93,1)" class="lb">12%</text>
<rect x="711.5" y="172.5" width="66.0" height="42.0" fill="#000" opacity="0.18" filter="url(#blur)"/>
<rect x="710.0" y="171.0" width="66.0" height="42.0" fill="#F4F5F6" fill-opacity="0.95"/>
<text transform="translate(743.0,187.3) scale(0.93,1)" class="lb">Teleneşti</text>
<text transform="translate(743.0,207.1) scale(0.93,1)" class="lb">7%</text>
<rect x="784.5" y="257.5" width="59.0" height="42.0" fill="#000" opacity="0.18" filter="url(#blur)"/>
<rect x="783.0" y="256.0" width="59.0" height="42.0" fill="#F4F5F6" fill-opacity="0.95"/>
<text transform="translate(812.5,272.3) scale(0.93,1)" class="lb">Criuleni</text>
<text transform="translate(812.5,292.1) scale(0.93,1)" class="lb">5%</text>
<rect x="801.5" y="336.5" width="60.0" height="42.0" fill="#000" opacity="0.18" filter="url(#blur)"/>
<rect x="800.0" y="335.0" width="60.0" height="42.0" fill="#F4F5F6" fill-opacity="0.95"/>
<text transform="translate(830.0,351.3) scale(0.93,1)" class="lb">Sîngerei</text>
<text transform="translate(830.0,371.1) scale(0.93,1)" class="lb">5%</text>
<rect x="781.5" y="420.5" width="63.0" height="42.0" fill="#000" opacity="0.18" filter="url(#blur)"/>
<rect x="780.0" y="419.0" width="63.0" height="42.0" fill="#F4F5F6" fill-opacity="0.95"/>
<text transform="translate(811.5,435.3) scale(0.93,1)" class="lb">Chişinău</text>
<text transform="translate(811.5,455.1) scale(0.93,1)" class="lb">5%</text>
<rect x="730.3" y="494.2" width="60.5" height="41.9" fill="#000" opacity="0.18" filter="url(#blur)"/>
<rect x="728.8" y="492.7" width="60.5" height="41.9" fill="#F4F5F6" fill-opacity="0.95"/>
<text transform="translate(759.0,509.0) scale(0.93,1)" class="lb">Hînceşti</text>
<text transform="translate(759.0,528.8) scale(0.93,1)" class="lb">5%</text>
<rect x="643.3" y="557.0" width="87.4" height="41.9" fill="#000" opacity="0.18" filter="url(#blur)"/>
<rect x="641.8" y="555.5" width="87.4" height="41.9" fill="#F4F5F6" fill-opacity="0.95"/>
<text transform="translate(685.5,571.8) scale(0.93,1)" class="lb">Ştefan Vodă</text>
<text transform="translate(685.5,591.6) scale(0.93,1)" class="lb">4%</text>
<rect x="573.3" y="600.5" width="50.1" height="42.0" fill="#000" opacity="0.18" filter="url(#blur)"/>
<rect x="571.8" y="599.0" width="50.1" height="42.0" fill="#F4F5F6" fill-opacity="0.95"/>
<text transform="translate(596.8,615.3) scale(0.93,1)" class="lb">Edineţ</text>
<text transform="translate(596.8,635.1) scale(0.93,1)" class="lb">4%</text>
<rect x="448.4" y="619.0" width="97.1" height="41.3" fill="#000" opacity="0.18" filter="url(#blur)"/>
<rect x="446.9" y="617.5" width="97.1" height="41.3" fill="#F4F5F6" fill-opacity="0.95"/>
<text transform="translate(495.4,633.8) scale(0.93,1)" class="lb">UTA Găgăuzia</text>
<text transform="translate(495.4,653.6) scale(0.93,1)" class="lb">4%</text>
<rect x="368.6" y="615.5" width="59.4" height="42.0" fill="#000" opacity="0.18" filter="url(#blur)"/>
<rect x="367.1" y="614.0" width="59.4" height="42.0" fill="#F4F5F6" fill-opacity="0.95"/>
<text transform="translate(396.8,630.3) scale(0.93,1)" class="lb">Drochia</text>
<text transform="translate(396.8,650.1) scale(0.93,1)" class="lb">4%</text>
<rect x="78.5" y="273.2" width="48.1" height="42.1" fill="#000" opacity="0.18" filter="url(#blur)"/>
<rect x="77.0" y="271.7" width="48.1" height="42.1" fill="#F4F5F6" fill-opacity="0.95"/>
<text transform="translate(101.0,288.0) scale(0.93,1)" class="lb">Restul</text>
<text transform="translate(101.0,307.8) scale(0.93,1)" class="lb">45%</text>
<text x="739.6" y="684" textLength="72.5" lengthAdjust="spacingAndGlyphs" style="font-family:'Liberation Sans',sans-serif;font-weight:bold;font-size:18.7px;fill:#4A52B5;stroke:#4A52B5;stroke-width:0.3px">SURSA:</text>
<text x="819.3" y="684" textLength="164.5" lengthAdjust="spacingAndGlyphs" style="font-family:'Liberation Sans',sans-serif;font-weight:bold;font-style:italic;font-size:18.7px;fill:#8E0F0F;stroke:#8E0F0F;stroke-width:0.3px">Mold-Street.com</text>
<text x="739.6" y="712.5" textLength="208.8" lengthAdjust="spacingAndGlyphs" style="font-family:'Liberation Sans',sans-serif;font-weight:bold;font-style:italic;font-size:18.7px;fill:#8E0F0F;stroke:#8E0F0F;stroke-width:0.3px">în baza datelor CNED</text>
</svg>
</body></html>
